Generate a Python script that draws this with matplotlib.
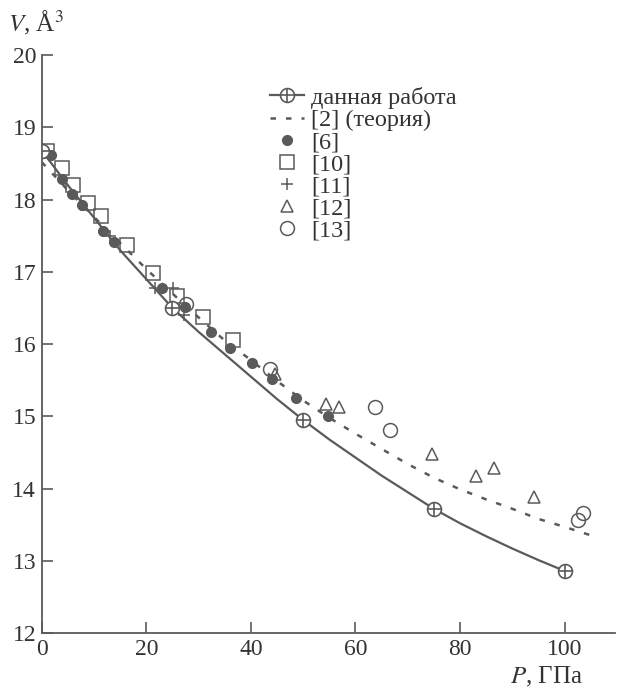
import matplotlib
matplotlib.use('Agg')
import matplotlib.pyplot as plt
from matplotlib.legend_handler import HandlerTuple

plt.rcParams['font.family'] = ['Liberation Serif', 'DejaVu Serif']
plt.rcParams['mathtext.fontset'] = 'stix'

# this work: smooth curve and the computed points on it
p_curve = [0, 5, 10, 15, 20, 25, 30, 35, 40, 45, 50, 55, 60, 65, 70, 75, 80, 85, 90, 95, 100]
v_curve = [18.68, 18.2, 17.75, 17.3, 16.9, 16.5, 16.17, 15.86, 15.55, 15.24, 14.95, 14.68,
           14.43, 14.18, 13.95, 13.72, 13.52, 13.34, 13.17, 13.01, 12.86]
p_work = [0, 25, 50, 75, 100]
v_work = [18.68, 16.5, 14.95, 13.72, 12.86]

# [2] theory
p_theory = [0, 5, 10, 15, 20, 25, 30, 35, 40, 45, 50, 55, 60, 65, 70, 75, 80, 85, 90, 95, 100, 106]
v_theory = [18.52, 18.13, 17.76, 17.4, 17.04, 16.7, 16.37, 16.05, 15.78, 15.49, 15.22, 14.98,
            14.76, 14.55, 14.34, 14.15, 13.99, 13.85, 13.72, 13.58, 13.47, 13.33]

# experimental data
p_ref6 = [1.7, 3.9, 5.7, 7.7, 11.8, 13.9, 23.0, 27.4, 32.4, 36.0, 40.2, 44.0, 48.7, 54.8]
v_ref6 = [18.62, 18.28, 18.08, 17.92, 17.57, 17.42, 16.77, 16.52, 16.17, 15.95, 15.74, 15.51, 15.26, 15.01]
p_ref10 = [1.0, 3.8, 6.0, 8.8, 11.3, 16.3, 21.2, 25.9, 30.9, 36.5]
v_ref10 = [18.68, 18.44, 18.2, 17.96, 17.78, 17.37, 16.99, 16.66, 16.37, 16.06]
p_ref11 = [13.1, 21.7, 25.2, 24.8, 27.2]
v_ref11 = [17.5, 16.78, 16.78, 16.52, 16.4]
p_ref12 = [44.6, 54.4, 56.8, 74.6, 83.0, 86.6, 94.2]
v_ref12 = [15.58, 15.17, 15.13, 14.48, 14.18, 14.28, 13.88]
p_ref13 = [27.6, 43.7, 63.8, 66.6, 102.5, 103.6]
v_ref13 = [16.55, 15.65, 15.13, 14.81, 13.56, 13.66]

gray = '#5a5a5a'
txt = '#333333'
fs = 17

fig = plt.figure(figsize=(6.2, 6.97), dpi=100)
ax = fig.add_axes([0.0673, 0.0918, 0.925, 0.829])

ln_work, = ax.plot(p_curve, v_curve, color=gray, lw=1.6)
ln_theory, = ax.plot(p_theory, v_theory, color=gray, lw=1.8, linestyle=(0, (2.2, 4)))
m6, = ax.plot(p_ref6, v_ref6, 'o', color=gray, ms=7, ls='none')
m10, = ax.plot(p_ref10, v_ref10, 's', mfc='none', mec=gray, mew=1.1, ms=10, ls='none')
m11, = ax.plot(p_ref11, v_ref11, '+', color=gray, mew=1.1, ms=9, ls='none')
m12, = ax.plot(p_ref12, v_ref12, '^', mfc='none', mec=gray, mew=1.1, ms=9, ls='none')
m13, = ax.plot(p_ref13, v_ref13, 'o', mfc='none', mec=gray, mew=1.1, ms=10, ls='none')
mc, = ax.plot(p_work, v_work, 'o', mfc='white', mec=gray, mew=1.2, ms=10, ls='none', zorder=5)
mp, = ax.plot(p_work, v_work, '+', color=gray, mew=1.2, ms=10, ls='none', zorder=6)

ax.set_xlim(0, 109.7)
ax.set_ylim(12, 20)
ax.set_xticks([0, 20, 40, 60, 80, 100])
ax.set_yticks(range(12, 21))
ax.spines['top'].set_visible(False)
ax.spines['right'].set_visible(False)
for s in ('left', 'bottom'):
    ax.spines[s].set_color(gray)
    ax.spines[s].set_linewidth(1.3)
ax.tick_params(direction='in', length=8, width=1.2, color=gray, labelcolor=txt,
               labelsize=fs, pad=4)
ax.tick_params(axis='y', pad=4)

fig.text(0.013, 0.947, '$V$, Å$^3$', fontsize=18, color=txt, ha='left', va='bottom')
fig.text(0.94, 0.012, '$P$, ГПа', fontsize=18, color=txt, ha='right', va='bottom')

leg = ax.legend([(ln_work, mc, mp), ln_theory, m6, m10, m11, m12, m13],
                ['данная работа', '[2] (теория)', '[6]', '[10]', '[11]', '[12]', '[13]'],
                handler_map={tuple: HandlerTuple(ndivide=1)},
                loc='upper left', bbox_to_anchor=(0.398, 0.945), frameon=False,
                fontsize=17.5, labelspacing=0.0, handlelength=1.4, handletextpad=0.3,
                borderaxespad=0, borderpad=0, numpoints=1)
for t in leg.get_texts():
    t.set_color(txt)

fig.savefig('out.png', dpi=100, facecolor='white')
